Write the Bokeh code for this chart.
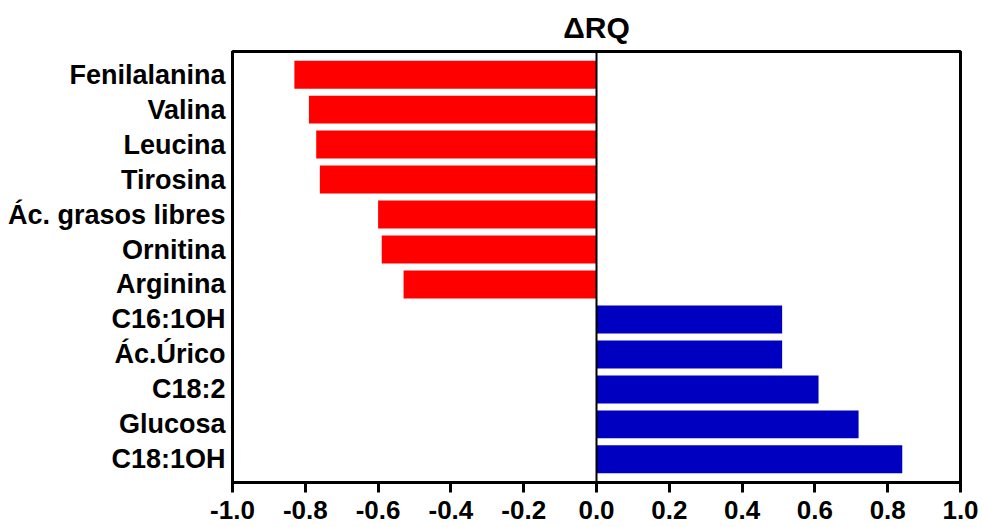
from bokeh.plotting import figure
from bokeh.models import FactorRange, Range1d, Span, FixedTicker, ColumnDataSource
from bokeh.embed import file_html
from bokeh.resources import INLINE

# Metabolites, top to bottom, and their ΔRQ values
metabolites = [
    "Fenilalanina", "Valina", "Leucina", "Tirosina", "Ác. grasos libres",
    "Ornitina", "Arginina", "C16:1OH", "Ác.Úrico", "C18:2", "Glucosa", "C18:1OH",
]
delta_rq = [-0.83, -0.79, -0.77, -0.76, -0.60, -0.59, -0.53,
            0.51, 0.51, 0.61, 0.72, 0.84]
x_ticks = [-1.0, -0.8, -0.6, -0.4, -0.2, 0.0, 0.2, 0.4, 0.6, 0.8, 1.0]

NEG_COLOR = "#FF0000"
POS_COLOR = "#0000C0"
FONT = "Liberation Sans"

colors = [NEG_COLOR if v < 0 else POS_COLOR for v in delta_rq]
source = ColumnDataSource(dict(name=metabolites, value=delta_rq, color=colors))

p = figure(
    width=982, height=527,
    y_range=FactorRange(*reversed(metabolites), range_padding=0.027),
    x_range=Range1d(-1.0, 1.0),
    output_backend="svg", toolbar_location=None,
    min_border_left=232, min_border_right=22, min_border_top=50, min_border_bottom=45,
    title="ΔRQ",
)

p.hbar(y="name", left=0, right="value", height=0.8, color="color",
       line_color=None, source=source)

p.add_layout(Span(location=0, dimension="height", line_color="black", line_width=2))

# Title
p.title.align = "center"
p.title.text_font = FONT
p.title.text_font_size = "30px"
p.title.text_font_style = "bold"
p.title.text_color = "black"
p.title.standoff = 16

# Frame and grid
p.outline_line_color = "black"
p.outline_line_width = 3
p.outline_line_alpha = 1
p.xgrid.grid_line_color = None
p.ygrid.grid_line_color = None
p.background_fill_color = "white"
p.border_fill_color = "white"

# X axis
p.xaxis.ticker = FixedTicker(ticks=x_ticks)
p.xaxis.minor_tick_line_color = None
p.xaxis.major_tick_in = 0
p.xaxis.major_tick_out = 10
p.xaxis.major_tick_line_width = 3
p.xaxis.axis_line_width = 3
p.xaxis.major_label_text_font = FONT
p.xaxis.major_label_text_font_size = "26px"
p.xaxis.major_label_text_font_style = "bold"
p.xaxis.major_label_text_color = "black"
p.xaxis.major_label_standoff = 8
p.xaxis.major_label_overrides = {t: f"{t:.1f}" for t in x_ticks}

# Y axis
p.yaxis.major_tick_line_color = None
p.yaxis.minor_tick_line_color = None
p.yaxis.axis_line_width = 3
p.yaxis.major_label_text_font = FONT
p.yaxis.major_label_text_font_size = "27px"
p.yaxis.major_label_text_font_style = "bold"
p.yaxis.major_label_text_color = "black"
p.yaxis.major_label_standoff = 1

open("out.html", "w").write(file_html(p, INLINE))
